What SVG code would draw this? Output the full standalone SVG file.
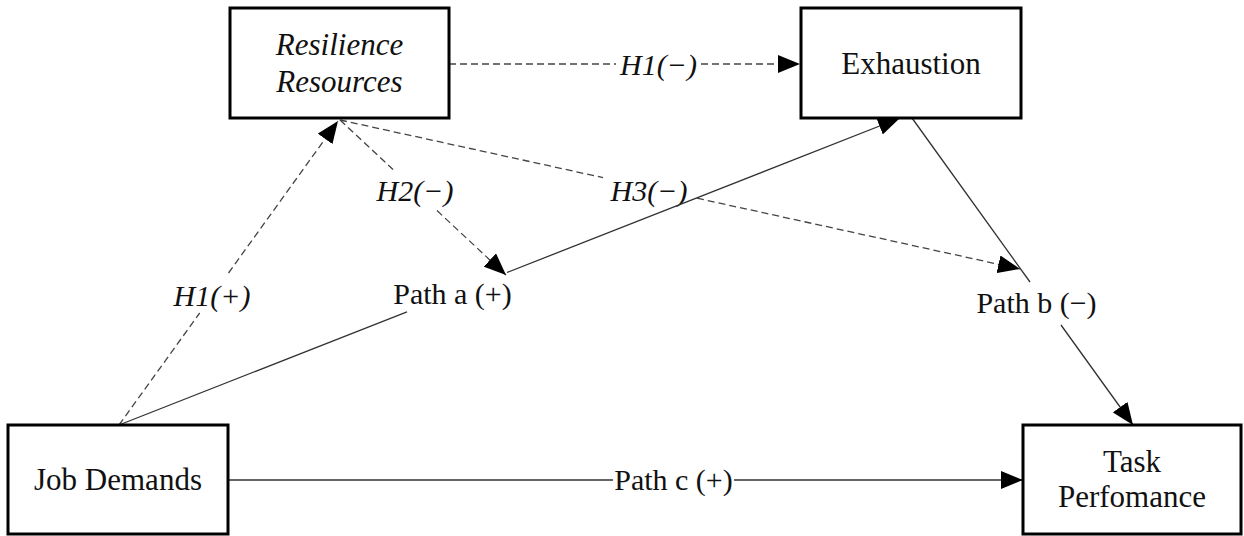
<svg xmlns="http://www.w3.org/2000/svg" width="1244" height="536" viewBox="0 0 1244 536">
<style>
.box{fill:#fff;stroke:#000;stroke-width:3}
.nt{font-family:"Liberation Serif","Times New Roman",serif;font-size:31px;fill:#111;text-anchor:middle}
.it{font-style:italic}
.lb{font-family:"Liberation Serif","Times New Roman",serif;font-size:30px;fill:#111;text-anchor:middle}
.solid{fill:none;stroke:#333;stroke-width:1.3}
.dash{fill:none;stroke:#444;stroke-width:1.3;stroke-dasharray:7 4}
</style>
<defs>
<marker id="arr" viewBox="0 0 22 18" refX="22" refY="9" markerWidth="22" markerHeight="18" markerUnits="userSpaceOnUse" orient="auto">
<path d="M0,0 L22,9 L0,18 z" fill="#000"/>
</marker>
</defs>
<g id="connectors">
<path id="e-h1minus" class="dash" d="M449,64 H616 M701,64 H800" marker-end="url(#arr)"/>
<text class="lb it" x="658.5" y="75">H1(−)</text>
<path id="e-h1plus" class="dash" d="M119,425 L199.7,313 M228.5,273 L338,121" marker-end="url(#arr)"/>
<text class="lb it" x="212" y="306">H1(+)</text>
<path id="e-h2" class="dash" d="M340,120 L393,169.5 M437,210.6 L506,275" marker-end="url(#arr)"/>
<text class="lb it" x="415" y="201">H2(−)</text>
<path id="e-h3" class="dash" d="M340,120 L603,177.6 M697,198.2 L1020,269" marker-end="url(#arr)"/>
<text class="lb it" x="649" y="201">H3(−)</text>
<path id="e-patha" class="solid" d="M119,425 L407,311.8 M507,272.5 L900,118" marker-end="url(#arr)"/>
<text class="lb" x="452.5" y="304">Path a (+)</text>
<path id="e-pathb" class="solid" d="M912,118 L1030,282 M1061,325 L1133,425" marker-end="url(#arr)"/>
<text class="lb" x="1036.5" y="313">Path b (−)</text>
<path id="e-pathc" class="solid" d="M228,480 H613 M734,480 H1023" marker-end="url(#arr)"/>
<text class="lb" x="673.5" y="490">Path c (+)</text>
</g>
<g id="node-resilience">
<rect class="box" x="230" y="8" width="219" height="110"/>
<text class="nt it" x="339.5" y="55">Resilience</text>
<text class="nt it" x="339.5" y="92">Resources</text>
</g>
<g id="node-exhaustion">
<rect class="box" x="801" y="8" width="220" height="110"/>
<text class="nt" x="911" y="74">Exhaustion</text>
</g>
<g id="node-jobdemands">
<rect class="box" x="8" y="425" width="220" height="109"/>
<text class="nt" x="118" y="490">Job Demands</text>
</g>
<g id="node-task">
<rect class="box" x="1023" y="425" width="218" height="109"/>
<text class="nt" x="1132" y="472">Task</text>
<text class="nt" x="1132" y="507">Perfomance</text>
</g>
</svg>
